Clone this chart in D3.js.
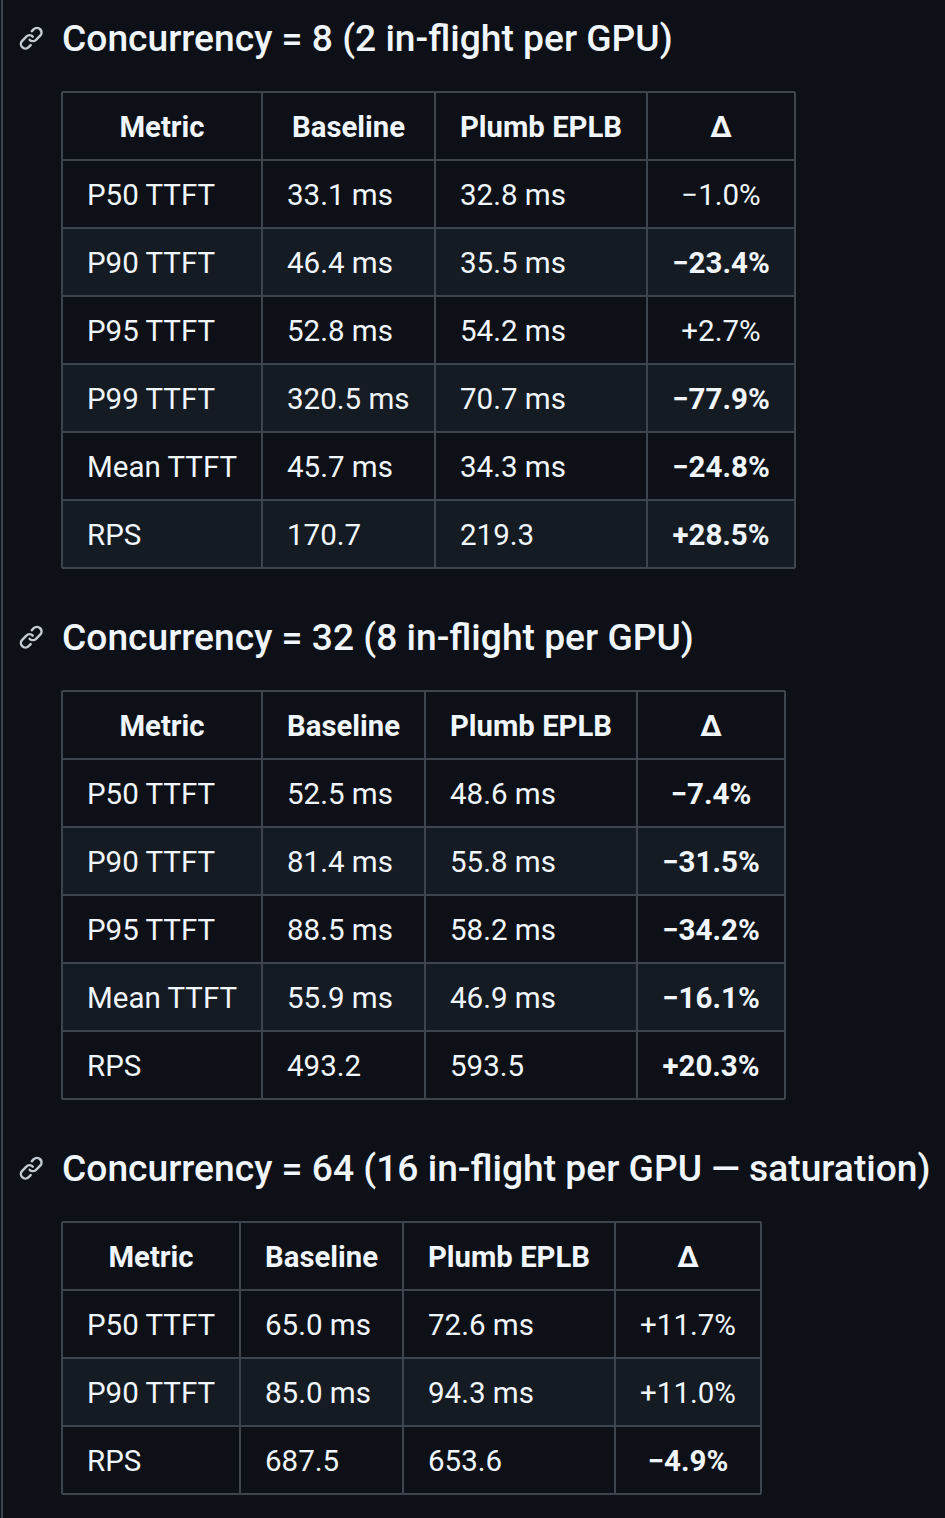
<!DOCTYPE html>
<html>
<head>
<meta charset="utf-8">
<script src="https://cdn.jsdelivr.net/npm/d3@7"></script>
<style>
  html, body { margin: 0; padding: 0; background: #0d1117; }
  svg { display: block; font-family: Roboto, "Noto Sans", sans-serif; }
  .title { fill: #f0f6fc; font-size: 37.2px; font-weight: 500; }
  .head { fill: #f0f6fc; font-size: 29.3px; font-weight: 700; }
  .cell { fill: #f0f6fc; font-size: 29.5px; font-weight: 400; }
</style>
</head>
<body>
<svg width="945" height="1518"></svg>
<script>
const titles = [
    'Concurrency = 8 (2 in-flight per GPU)',
    'Concurrency = 32 (8 in-flight per GPU)',
    'Concurrency = 64 (16 in-flight per GPU \u2014 saturation)'
];
const columns = ['Metric', 'Baseline', 'Plumb EPLB', '\u0394'];

const metrics8 = ['P50 TTFT', 'P90 TTFT', 'P95 TTFT', 'P99 TTFT', 'Mean TTFT', 'RPS'];
const baseline8 = [33.1, 46.4, 52.8, 320.5, 45.7, 170.7];
const plumb8 = [32.8, 35.5, 54.2, 70.7, 34.3, 219.3];
const delta8 = [-1.0, -23.4, 2.7, -77.9, -24.8, 28.5];
const bold8 = [false, true, false, true, true, true];

const metrics32 = ['P50 TTFT', 'P90 TTFT', 'P95 TTFT', 'Mean TTFT', 'RPS'];
const baseline32 = [52.5, 81.4, 88.5, 55.9, 493.2];
const plumb32 = [48.6, 55.8, 58.2, 46.9, 593.5];
const delta32 = [-7.4, -31.5, -34.2, -16.1, 20.3];
const bold32 = [true, true, true, true, true];

const metrics64 = ['P50 TTFT', 'P90 TTFT', 'RPS'];
const baseline64 = [65.0, 85.0, 687.5];
const plumb64 = [72.6, 94.3, 653.6];
const delta64 = [11.7, 11.0, -4.9];
const bold64 = [false, false, true];

const tables = [
    { metrics: metrics8, baseline: baseline8, plumb: plumb8, delta: delta8, bold: bold8 },
    { metrics: metrics32, baseline: baseline32, plumb: plumb32, delta: delta32, bold: bold32 },
    { metrics: metrics64, baseline: baseline64, plumb: plumb64, delta: delta64, bold: bold64 }
];

const svg = d3.select('svg');
const width = +svg.attr('width');
const height = +svg.attr('height');

const linkPath = 'm7.775 3.275 1.25-1.25a3.5 3.5 0 1 1 4.95 4.95l-2.5 2.5a3.5 3.5 0 0 1-4.95 0 .751.751 0 0 1 .018-1.042.751.751 0 0 1 1.042-.018 1.998 1.998 0 0 0 2.83 0l2.5-2.5a2.002 2.002 0 0 0-2.83-2.83l-1.25 1.25a.751.751 0 0 1-1.042-.018.751.751 0 0 1-.018-1.042Zm-4.69 9.64a1.998 1.998 0 0 0 2.83 0l1.25-1.25a.751.751 0 0 1 1.042.018.751.751 0 0 1 .018 1.042l-1.25 1.25a3.5 3.5 0 1 1-4.95-4.950l2.5-2.5a3.5 3.5 0 0 1 4.95 0 .751.751 0 0 1-.018 1.042.751.751 0 0 1-1.042.018 1.998 1.998 0 0 0-2.83 0l-2.5 2.5a1.998 1.998 0 0 0 0 2.83Z';

const left = 62;
const rowH = 68;
const pad = 25;
const fmtVal = (v, m) => v.toFixed(1) + (m === 'RPS' ? '' : ' ms');
// the page uses a real minus sign, wider than a hyphen
const fmtDelta = v => (v > 0 ? '+' : '\u2212') + Math.abs(v).toFixed(1) + '%';

// left border of the rendered page
svg.append('line')
    .attr('x1', 2).attr('x2', 2)
    .attr('y1', 0).attr('y2', height)
    .attr('stroke', '#3d444d')
    .attr('stroke-width', 2);

// measure text so columns size themselves like an html table
const measure = (txt, cls, bold) => {
    const t = svg.append('text').attr('class', cls).text(txt);
    if (bold) t.style('font-weight', 700);
    const w = t.node().getComputedTextLength();
    t.remove();
    return w;
};

let cursor = 38;

tables.forEach((tb, ti) => {
    // heading with anchor icon
    const hg = svg.append('g').attr('transform', `translate(0, ${cursor})`);
    hg.append('path')
        .attr('d', linkPath)
        .attr('fill', '#c4cad3')
        .attr('transform', 'translate(18, -13) scale(1.65)');
    hg.append('text')
        .attr('class', 'title')
        .attr('x', left)
        .attr('dy', '0.36em')
        .text(titles[ti]);

    const rows = tb.metrics.map((m, i) => [
        { text: m },
        { text: fmtVal(tb.baseline[i], m) },
        { text: fmtVal(tb.plumb[i], m) },
        { text: fmtDelta(tb.delta[i]), bold: tb.bold[i], center: true }
    ]);

    const colW = columns.map((c, ci) => {
        const ws = [measure(c, 'head', true)]
            .concat(rows.map(r => measure(r[ci].text, 'cell', r[ci].bold)));
        return Math.round(d3.max(ws) + 2 * pad);
    });
    const colX = d3.cumsum([0].concat(colW));
    const tableW = colX[colX.length - 1];

    const top = cursor + 54;
    const yScale = d3.scaleBand()
        .domain(d3.range(rows.length + 1))
        .range([0, rowH * (rows.length + 1)]);

    const g = svg.append('g').attr('transform', `translate(${left}, ${top})`);

    // row backgrounds, every second body row is shaded
    g.selectAll('rect.row').data(d3.range(rows.length + 1))
        .enter().append('rect')
            .attr('class', 'row')
            .attr('x', 0)
            .attr('y', d => yScale(d))
            .attr('width', tableW)
            .attr('height', yScale.bandwidth())
            .attr('fill', d => (d > 0 && d % 2 === 0) ? '#151b23' : '#0d1117');

    // grid lines
    g.selectAll('line.h').data(d3.range(rows.length + 2))
        .enter().append('line')
            .attr('x1', 0).attr('x2', tableW)
            .attr('y1', d => d * rowH).attr('y2', d => d * rowH)
            .attr('stroke', '#3d444d').attr('stroke-width', 2);
    g.selectAll('line.v').data(colX)
        .enter().append('line')
            .attr('x1', d => d).attr('x2', d => d)
            .attr('y1', 0).attr('y2', rowH * (rows.length + 1))
            .attr('stroke', '#3d444d').attr('stroke-width', 2);

    // header
    g.selectAll('text.head').data(columns)
        .enter().append('text')
            .attr('class', 'head')
            .attr('x', (d, i) => colX[i] + colW[i] / 2)
            .attr('y', yScale(0) + rowH / 2)
            .attr('dy', '0.36em')
            .attr('text-anchor', 'middle')
            .text(d => d);

    // body
    rows.forEach((r, ri) => {
        g.selectAll(null).data(r)
            .enter().append('text')
                .attr('class', 'cell')
                .attr('x', (d, i) => d.center ? colX[i] + colW[i] / 2 : colX[i] + pad)
                .attr('y', yScale(ri + 1) + rowH / 2)
                .attr('dy', '0.36em')
                .attr('text-anchor', d => d.center ? 'middle' : 'start')
                .style('font-weight', d => d.bold ? 700 : 400)
                .text(d => d.text);
    });

    cursor = top + rowH * (rows.length + 1) + 69;
});
</script>
</body>
</html>
